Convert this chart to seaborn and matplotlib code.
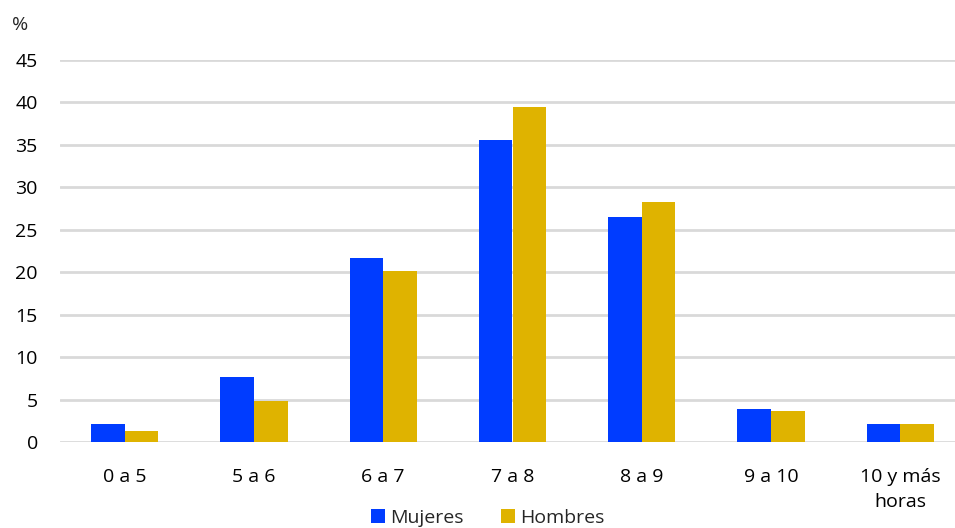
import pandas as pd
import matplotlib.pyplot as plt
import seaborn as sns

# Datos
categorias = ['0 a 5', '5 a 6', '6 a 7', '7 a 8', '8 a 9', '9 a 10', '10 y más\nhoras']
mujeres = [2.1, 7.7, 21.7, 35.6, 26.5, 3.9, 2.1]
hombres = [1.3, 4.8, 20.2, 39.5, 28.3, 3.6, 2.1]

df = pd.DataFrame({
    'horas': categorias * 2,
    'valor': mujeres + hombres,
    'sexo': ['Mujeres'] * len(categorias) + ['Hombres'] * len(categorias),
})

sns.set_style('white')
plt.rcParams['font.family'] = ['Open Sans', 'DejaVu Sans']

fig = plt.figure(figsize=(9.55, 5.28), dpi=100)
# el area del grafico se sale un poco por la derecha, como en el original
ax = fig.add_axes([60 / 955, 1 - 442 / 528, 905 / 955, 382 / 528])

sns.barplot(data=df, x='horas', y='valor', hue='sexo', ax=ax,
            palette={'Mujeres': '#003cff', 'Hombres': '#dfb300'},
            width=0.52, saturation=1, linewidth=0, zorder=3)

ax.set_ylim(0, 45)
ax.set_yticks(range(0, 46, 5))
ax.grid(axis='y', color='#d9d9d9', linewidth=2, zorder=0)
ax.set_axisbelow(True)
sns.despine(ax=ax, left=True, bottom=True)
ax.tick_params(axis='both', length=0, labelsize=14, colors='#000000')
ax.tick_params(axis='y', pad=16)
ax.tick_params(axis='x', pad=19)
for lbl in ax.get_xticklabels():
    lbl.set_linespacing(1.45)
ax.set_xlabel('')
ax.set_ylabel('')
ax.set_xlim(-0.5, len(categorias) - 0.5)

fig.text(12 / 955, 1 - 30 / 528, '%', fontsize=14)

handles, labels = ax.get_legend_handles_labels()
ax.legend_.remove()
fig.legend(handles, labels, loc='lower center', bbox_to_anchor=(488 / 955, 0.002),
           ncol=2, frameon=False, fontsize=14, handlelength=0.7, handleheight=0.7,
           handletextpad=0.3, columnspacing=1.9, borderaxespad=0, borderpad=0)

fig.savefig('out.png', dpi=100)
